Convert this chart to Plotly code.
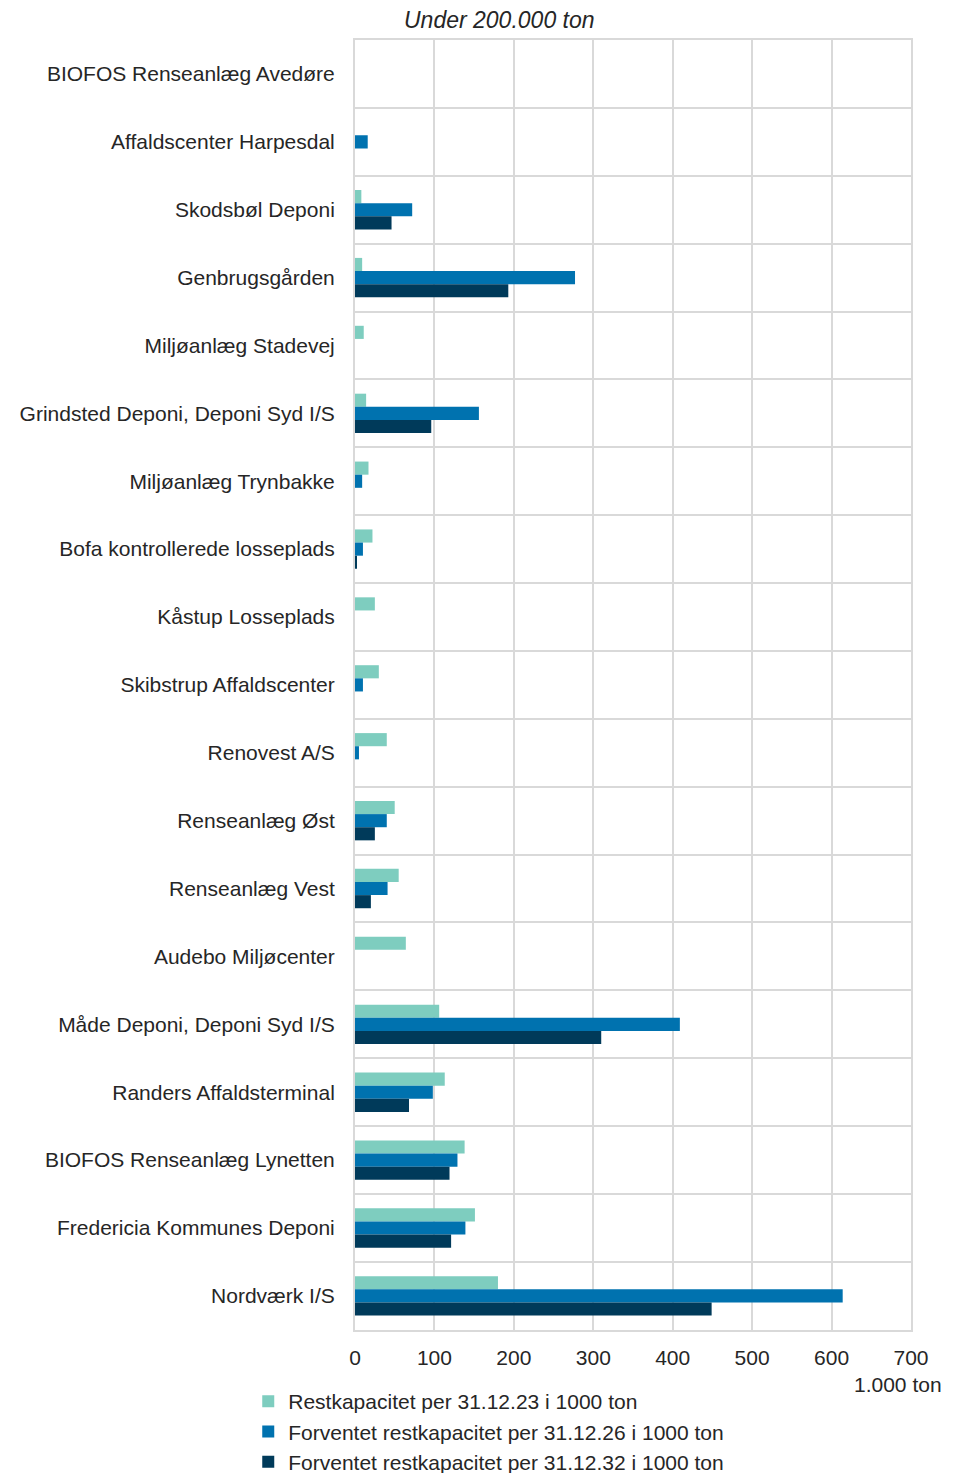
import plotly.graph_objects as go

categories = [
    "BIOFOS Renseanlæg Avedøre",
    "Affaldscenter Harpesdal",
    "Skodsbøl Deponi",
    "Genbrugsgården",
    "Miljøanlæg Stadevej",
    "Grindsted Deponi, Deponi Syd I/S",
    "Miljøanlæg Trynbakke",
    "Bofa kontrollerede losseplads",
    "Kåstup Losseplads",
    "Skibstrup Affaldscenter",
    "Renovest A/S",
    "Renseanlæg Øst",
    "Renseanlæg Vest",
    "Audebo Miljøcenter",
    "Måde Deponi, Deponi Syd I/S",
    "Randers Affaldsterminal",
    "BIOFOS Renseanlæg Lynetten",
    "Fredericia Kommunes Deponi",
    "Nordværk I/S",
]

rest_2023 = [0, 0, 8, 9, 11, 14, 17, 22, 25, 30, 40, 50, 55, 64, 106, 113, 138, 151, 180]
rest_2026 = [0, 16, 72, 277, 0, 156, 9, 10, 0, 10, 5, 40, 41, 0, 409, 98, 129, 139, 614]
rest_2032 = [0, 0, 46, 193, 0, 96, 0, 2.5, 0, 0, 0, 25, 20, 0, 310, 68, 119, 121, 449]

series_names = [
    "Restkapacitet per 31.12.23 i 1000 ton",
    "Forventet restkapacitet per 31.12.26 i 1000 ton",
    "Forventet restkapacitet per 31.12.32 i 1000 ton",
]
series_colors = ["#7ECDBF", "#0072AF", "#003A5A"]
x_ticks = [0, 100, 200, 300, 400, 500, 600, 700]

FONT = "Liberation Sans, Arial, sans-serif"
TXT = "#262626"
GRID = "#D9D9D9"

fig = go.Figure()
for name, vals, col in zip(series_names, [rest_2023, rest_2026, rest_2032], series_colors):
    fig.add_trace(go.Bar(
        y=categories, x=vals, name=name, orientation="h",
        marker=dict(color=col, line=dict(width=0)),
    ))

fig.update_layout(
    width=945, height=1465,
    margin=dict(l=343, r=42, t=32, b=141),
    paper_bgcolor="white", plot_bgcolor="white",
    barmode="group", bargap=0.42, bargroupgap=0,
    font=dict(family=FONT, size=21, color=TXT),
    showlegend=True,
    legend=dict(
        x=-0.192, xanchor="left", xref="paper",
        y=0.0628, yanchor="top", yref="container",
        font=dict(family=FONT, size=21, color=TXT),
        tracegroupgap=0, itemsizing="constant", traceorder="normal",
        itemwidth=30,
    ),
    xaxis=dict(
        range=[0, 700], tickvals=x_ticks, ticktext=[str(v) for v in x_ticks],
        showgrid=True, gridcolor=GRID, gridwidth=2,
        showline=True, linecolor=GRID, linewidth=2, mirror=True,
        zeroline=False, ticks="", ticklabelstandoff=8,
        tickfont=dict(family=FONT, size=21, color=TXT),
    ),
    yaxis=dict(
        type="category", autorange="reversed", tickson="boundaries",
        showgrid=True, gridcolor=GRID, gridwidth=2,
        showline=True, linecolor=GRID, linewidth=2, mirror=True,
        ticks="", ticklabelstandoff=14,
        tickfont=dict(family=FONT, size=21, color=TXT),
    ),
    annotations=[
        dict(text="<i>Under 200.000 ton</i>", xref="paper", yref="paper",
             x=0.2607, y=1.0155, xanchor="center", yanchor="middle",
             showarrow=False, font=dict(family=FONT, size=23, color=TXT)),
        dict(text="1.000 ton", xref="paper", yref="paper",
             x=1.059, y=-0.0426, xanchor="right", yanchor="middle",
             showarrow=False, font=dict(family=FONT, size=21, color=TXT)),
    ],
)

fig.write_html("out.html")
